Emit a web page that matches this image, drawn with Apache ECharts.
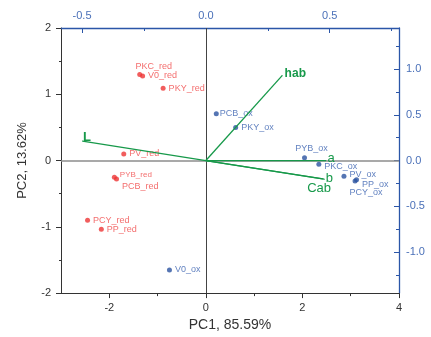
<!DOCTYPE html>
<html>
<head>
<meta charset="utf-8">
<script src="https://cdn.jsdelivr.net/npm/echarts@6/dist/echarts.min.js"></script>
<style>html,body{margin:0;padding:0;background:#fff}#c{width:431px;height:337px}</style>
</head>
<body>
<div id="c"></div>
<script>
// ---- data ----
const scoreNames = ['PKC_red','V0_red','PKY_red','PV_red','PYB_red','PCB_red','PCY_red','PP_red',
                    'PCB_ox','PKY_ox','V0_ox','PYB_ox','PKC_ox','PV_ox','PP_ox','PCY_ox'];
const scorePC1 = [-1.37,-1.31,-0.885,-1.70,-1.895,-1.85,-2.45,-2.165,
                  0.216,0.617,-0.754,2.043,2.34,2.86,3.12,3.09];
const scorePC2 = [1.30,1.276,1.09,0.10,-0.252,-0.277,-0.90,-1.037,
                  0.707,0.497,-1.65,0.042,-0.057,-0.237,-0.29,-0.31];
const vectorNames = ['L','a','b','Cab','hab'];
const vectorX = [-0.498,0.485,0.478,0.472,0.308];
const vectorY = [0.213,0.0,-0.203,-0.200,0.928];
const pc1Labels = [-2,0,2,4];
const pc2Labels = [-2,-1,0,1,2];
const loadXLabels = [-0.5,0,0.5];
const loadYLabels = [-1,-0.5,0,0.5,1];
const xTitle = 'PC1, 85.59%';
const yTitle = 'PC2, 13.62%';

// ---- styles ----
const RED = '#EE3535', RED_T = '#F04848';
const BLUE = '#2A52A0', BLUE_T = '#3A62B0';
const GREEN = '#17994A';
const AX = '#333333', AXB = '#2B56A8', AXB_T = '#4A70B8';
const FONT = 'Liberation Sans, Arial, sans-serif';
const pc1Range = [-3, 4], pc2Range = [-2, 2];
const kx = 0.195, ky = 0.724;

const labelPlace = {
  PKC_red: {position:'top', offset:[14,2]},
  V0_red: {position:'right'},
  PKY_red: {position:'right'},
  PV_red: {position:'right'},
  PYB_red: {position:'right', offset:[0,-2], fontSize:8},
  PCB_red: {position:'right', offset:[0,8]},
  PCY_red: {position:'right'},
  PP_red: {position:'right'},
  PCB_ox: {position:'right', distance:1},
  PKY_ox: {position:'right'},
  V0_ox: {position:'right'},
  PYB_ox: {position:'top', offset:[7,1]},
  PKC_ox: {position:'right', offset:[0,2]},
  PV_ox: {position:'right', offset:[0,-2]},
  PP_ox: {position:'right', offset:[0,5]},
  PCY_ox: {position:'bottom', offset:[11,1]}
};
const vecLabelPlace = {
  L: {position:[1,-10], fontWeight:'bold', fontSize:13},
  a: {position:[2,-8], fontSize:13},
  b: {position:[2,-7], fontSize:13},
  Cab: {position:[-15,4], fontSize:13},
  hab: {position:[3,-7], fontWeight:'bold', fontSize:12}
};

function scoreData(suffix, color) {
  const out = [];
  scoreNames.forEach((n,i) => {
    if (!n.endsWith(suffix)) return;
    const lp = labelPlace[n] || {position:'right'};
    out.push({
      name: n, value: [scorePC1[i], scorePC2[i]],
      label: Object.assign({show:true, formatter:n, color:color, fontSize:9, distance:3, fontFamily:FONT}, lp)
    });
  });
  return out;
}

const series = [];
series.push({
  type:'scatter', xAxisIndex:0, yAxisIndex:0, symbolSize:5, z:5,
  itemStyle:{color:RED}, data: scoreData('_red', RED_T),
  markLine: {
    silent:true, symbol:'none', label:{show:false}, animation:false, z:1,
    data:[
      {xAxis:0, lineStyle:{color:'#444', width:1, type:'solid'}},
      {yAxis:0, lineStyle:{color:'#8c8c8c', width:1.5, type:'solid'}}
    ]
  }
});
series.push({
  type:'scatter', xAxisIndex:0, yAxisIndex:0, symbolSize:5, z:5,
  itemStyle:{color:BLUE}, data: scoreData('_ox', BLUE_T)
});
vectorNames.forEach((n,i) => {
  series.push({
    type:'line', xAxisIndex:2, yAxisIndex:2, showSymbol:true, symbol:'circle', symbolSize:1, z:6,
    itemStyle:{color:GREEN},
    lineStyle:{color:GREEN, width:1.3}, animation:false,
    labelLayout:{hideOverlap:false},
    data:[[0,0], {value:[vectorX[i], vectorY[i]],
      label:Object.assign({show:true, formatter:n, color:GREEN, fontFamily:FONT, align:'left', verticalAlign:'top'}, vecLabelPlace[n])}]
  });
});

const tickLabel = {fontSize:11, fontFamily:FONT};
function line(color, w) { return {show:true, onZero:false, lineStyle:{color:color, width:w||1}}; }
const noLine = {show:false, onZero:false};
const option = {
  animation:false,
  grid:{left:61, right:32, top:28, bottom:42},
  xAxis:[
    {type:'value', position:'bottom', min:pc1Range[0], max:pc1Range[1], splitLine:{show:false},
     axisLine:line(AX),
     axisTick:{show:true, customValues:pc1Labels, length:5, lineStyle:{color:AX}},
     axisLabel:Object.assign({customValues:pc1Labels, color:AX, margin:9}, tickLabel),
     name:xTitle, nameLocation:'middle', nameGap:22, nameTextStyle:{fontSize:14, color:'#333', fontFamily:FONT}},
    {type:'value', position:'bottom', min:pc1Range[0], max:pc1Range[1], splitLine:{show:false},
     axisLine:noLine,
     axisTick:{show:true, customValues:[-1,1,3], length:3, lineStyle:{color:AX}},
     axisLabel:{show:false}},
    {type:'value', position:'top', min:pc1Range[0]*kx, max:pc1Range[1]*kx, splitLine:{show:false},
     axisLine:line(AXB, 1.3),
     axisTick:{show:true, customValues:loadXLabels, inside:true, length:5, lineStyle:{color:AXB}},
     axisLabel:Object.assign({customValues:loadXLabels, color:AXB_T, margin:7, formatter:v=>Number(v).toFixed(1)}, tickLabel)},
    {type:'value', position:'top', min:pc1Range[0]*kx, max:pc1Range[1]*kx, splitLine:{show:false},
     axisLine:noLine,
     axisTick:{show:true, customValues:[-0.25,0.25,0.75], inside:true, length:3, lineStyle:{color:AXB}},
     axisLabel:{show:false}}
  ],
  yAxis:[
    {type:'value', position:'left', min:pc2Range[0], max:pc2Range[1], splitLine:{show:false},
     axisLine:line(AX),
     axisTick:{show:true, customValues:pc2Labels, length:5, lineStyle:{color:AX}},
     axisLabel:Object.assign({customValues:pc2Labels, color:AX, margin:10}, tickLabel),
     name:yTitle, nameLocation:'middle', nameGap:32, nameTextStyle:{fontSize:13, color:'#333', fontFamily:FONT}},
    {type:'value', position:'left', min:pc2Range[0], max:pc2Range[1], splitLine:{show:false},
     axisLine:noLine,
     axisTick:{show:true, customValues:[-1.5,-0.5,0.5,1.5], length:2, lineStyle:{color:AX}},
     axisLabel:{show:false}},
    {type:'value', position:'right', min:pc2Range[0]*ky, max:pc2Range[1]*ky, splitLine:{show:false},
     axisLine:line(AXB, 1.3),
     axisTick:{show:true, customValues:loadYLabels, inside:true, length:5, lineStyle:{color:AXB}},
     axisLabel:Object.assign({customValues:loadYLabels, color:AXB_T, margin:7, formatter:v=>Number(v).toFixed(1)}, tickLabel)},
    {type:'value', position:'right', min:pc2Range[0]*ky, max:pc2Range[1]*ky, splitLine:{show:false},
     axisLine:noLine,
     axisTick:{show:true, customValues:[-1.25,-0.75,-0.25,0.25,0.75,1.25], inside:true, length:3, lineStyle:{color:AXB}},
     axisLabel:{show:false}}
  ],
  series: series
};
const chart = echarts.init(document.getElementById('c'), null, {renderer:'canvas'});
chart.setOption(option);
</script>
</body>
</html>
